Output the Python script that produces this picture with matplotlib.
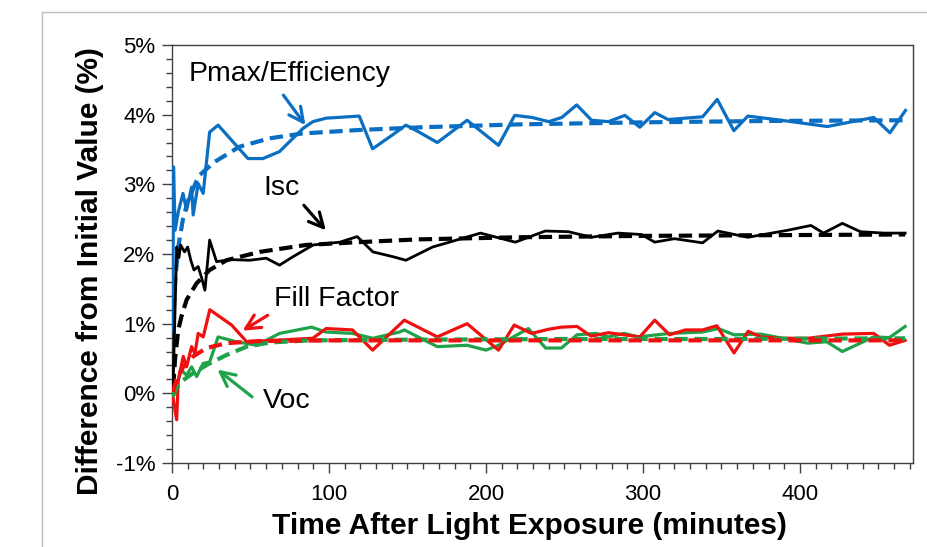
import matplotlib
matplotlib.use("Agg")
import matplotlib.pyplot as plt
from matplotlib.lines import Line2D
from matplotlib.ticker import MultipleLocator

plt.rcParams['font.family'] = ['Liberation Sans', 'DejaVu Sans']

# ---------------------------------------------------------------
# data (minutes, % change from initial value)
# ---------------------------------------------------------------

# Pmax / Efficiency
t_pmax = [0.5, 1, 2, 4, 7, 9.3, 12.5, 13.5, 16.7, 19.9, 24, 29.4, 48.4, 57.9, 68.5, 83.3,
          89.7, 98.2, 119.3, 127.8, 140.5, 149, 157.4, 169, 188, 208, 218.3, 229.3, 240,
          248.3, 257.8, 267.3, 278, 288.5, 298, 307.5, 316, 338, 347.3, 357.9, 366.8,
          388, 417.5, 447, 457.3, 467.2]
pmax = [0.9, 3.25, 2.34, 2.6, 2.87, 2.63, 2.96, 2.56, 3.01, 2.87, 3.75, 3.85, 3.37, 3.37, 3.47, 3.80,
        3.90, 3.95, 3.98, 3.51, 3.71, 3.85, 3.75, 3.60, 3.92, 3.56, 3.99, 3.96, 3.90,
        3.96, 4.14, 3.92, 3.90, 3.99, 3.82, 4.03, 3.93, 3.97, 4.22, 3.77, 3.98,
        3.92, 3.83, 3.96, 3.74, 4.06]
t_pmax_fit = [0.5, 2, 4, 7, 10, 17, 27, 43, 62, 83, 119, 160, 220, 300, 380, 467]
pmax_fit = [0.9, 1.6, 2.1, 2.5, 2.75, 3.12, 3.32, 3.54, 3.66, 3.73, 3.78, 3.82, 3.86, 3.89, 3.91, 3.92]

# Isc
t_isc = [0.5, 3, 4.5, 5.5, 8, 10, 12, 14, 16.7, 19, 21, 24, 28.4, 37, 49.5, 60, 68.5, 77, 90,
         107, 118, 128, 141, 149, 166, 196.5, 218.7, 237.8, 252.5, 267.3, 284, 299, 307.5,
         320, 338, 347.7, 366.8, 392, 407, 415, 427, 438.5, 453.5, 467]
isc = [-0.10, 2.1, 1.95, 2.13, 2.03, 2.10, 1.91, 1.77, 1.82, 1.65, 1.48, 2.20, 1.89, 1.92, 1.91, 1.94, 1.84, 1.96, 2.13,
       2.17, 2.25, 2.03, 1.96, 1.91, 2.10, 2.30, 2.17, 2.33, 2.32, 2.24, 2.30, 2.28, 2.17,
       2.22, 2.16, 2.33, 2.24, 2.34, 2.41, 2.30, 2.44, 2.32, 2.30, 2.30]
t_isc_fit = [0.8, 2, 4, 6, 9.3, 15.7, 24, 34.7, 55.8, 85.5, 119, 157, 220, 300, 380, 467]
isc_fit = [0.09, 0.5, 0.91, 1.1, 1.34, 1.58, 1.77, 1.91, 2.03, 2.13, 2.17, 2.21, 2.24, 2.26, 2.27, 2.28]

# Fill Factor
t_ff = [0, 3, 4, 7.2, 9.3, 12.5, 14.6, 16.7, 19.9, 24.1, 38, 47.6, 64.5, 89.7, 98.2, 115, 127.8,
        148, 169, 188, 208, 218, 229, 240, 248, 258, 267, 278, 288, 298, 307.5, 317, 327,
        338, 347, 358, 367, 375, 388, 405, 427, 447, 457, 467]
ff = [0.02, -0.38, 0.19, 0.53, 0.38, 0.67, 0.57, 0.86, 0.81, 1.20, 0.98, 0.74, 0.76, 0.79, 0.93, 0.91, 0.62,
      1.05, 0.81, 1.00, 0.62, 0.98, 0.86, 0.92, 0.95, 0.96, 0.82, 0.87, 0.84, 0.81, 1.05, 0.84, 0.91,
      0.91, 0.97, 0.58, 0.89, 0.81, 0.79, 0.79, 0.85, 0.86, 0.69, 0.76]
t_ff_fit = [0.5, 3, 7.2, 13.5, 22, 34.7, 55.8, 100, 200, 300, 467]
ff_fit = [0.02, 0.2, 0.38, 0.53, 0.65, 0.72, 0.75, 0.76, 0.76, 0.76, 0.76]

# Voc
t_voc = [0, 3, 6, 9.3, 12.5, 15.7, 19.9, 24, 29.4, 41, 54, 68.5, 89, 98, 115, 128, 145, 148,
         169, 188, 200, 208, 227, 238, 248, 258, 270, 278, 288, 297, 317, 338, 348, 358,
         375, 405, 417, 427, 447, 457, 467]
voc = [-0.05, 0.12, 0.33, 0.26, 0.38, 0.24, 0.43, 0.45, 0.81, 0.74, 0.69, 0.86, 0.95, 0.88, 0.86, 0.79, 0.88, 0.91,
       0.67, 0.69, 0.62, 0.69, 0.93, 0.65, 0.65, 0.84, 0.86, 0.81, 0.86, 0.81, 0.86, 0.88, 0.93, 0.84,
       0.85, 0.72, 0.74, 0.60, 0.81, 0.80, 0.96]
t_voc_fit = [0.5, 3, 7.2, 13.5, 24, 34.7, 47.6, 62.5, 88, 150, 250, 350, 467]
voc_fit = [-0.05, 0.08, 0.19, 0.29, 0.43, 0.55, 0.67, 0.73, 0.76, 0.77, 0.78, 0.78, 0.79]

y_ticks = [-1, 0, 1, 2, 3, 4, 5]
y_tick_labels = ['-1%', '0%', '1%', '2%', '3%', '4%', '5%']
x_ticks = [0, 100, 200, 300, 400]

# ---------------------------------------------------------------
# colours
# ---------------------------------------------------------------
blue = '#0a6fc2'
red = '#f01010'
green = '#1fa34a'
black = '#000000'

fig = plt.figure(figsize=(9.27, 5.47), dpi=100)
ax = fig.add_axes([0.1855, 0.1536, 0.7994, 0.7641])

dash = (0, (3.2, 1.6))
ax.plot(t_pmax, pmax, color=blue, lw=2.3, zorder=3)
ax.plot(t_pmax_fit, pmax_fit, color=blue, lw=3, ls=dash, zorder=3)
ax.plot(t_isc, isc, color=black, lw=2.0, zorder=3)
ax.plot(t_isc_fit, isc_fit, color=black, lw=3, ls=dash, zorder=3)
ax.plot(t_voc, voc, color=green, lw=2.3, zorder=3)
ax.plot(t_ff, ff, color=red, lw=2.3, zorder=3)
ax.plot(t_voc_fit, voc_fit, color=green, lw=3, ls=dash, zorder=3)
ax.plot(t_ff_fit, ff_fit, color=red, lw=3, ls=dash, zorder=3)

ax.set_xlim(0, 472)
ax.set_ylim(-1, 5)
ax.set_yticks(y_ticks)
ax.set_yticklabels(y_tick_labels)
ax.set_xticks(x_ticks)
ax.xaxis.set_minor_locator(MultipleLocator(10))
ax.yaxis.set_minor_locator(MultipleLocator(0.2))
ax.tick_params(axis='both', which='major', labelsize=16, length=7, width=1, color='#404040', direction='out')
ax.tick_params(axis='both', which='minor', length=4, width=1, color='#404040', direction='out')
ax.tick_params(axis='y', pad=5)
ax.tick_params(axis='x', pad=8)
for s in ax.spines.values():
    s.set_color('#404040')
    s.set_linewidth(1)

ax.set_xlabel('Time After Light Exposure (minutes)', fontsize=21.5, fontweight='bold')
ax.set_ylabel('Difference from Initial Value (%)', fontsize=21.5, fontweight='bold')
ax.xaxis.set_label_coords(0.483, -0.118)
ax.yaxis.set_label_coords(-0.092, 0.46)

# annotations with arrows
def label(text, xy_text, xy_arrow_from, xy_arrow_to, color):
    ax.annotate(text, xy=xy_text, xycoords='data', fontsize=20.5, ha='center', va='center', color='black')
    ax.annotate('', xy=xy_arrow_to, xytext=xy_arrow_from, xycoords='data',
                arrowprops=dict(arrowstyle='->', color=color, lw=2.3, mutation_scale=26,
                                shrinkA=0, shrinkB=0))

label('Pmax/Efficiency', (75, 4.58), (71, 4.28), (85, 3.85), blue)
label('Isc', (70, 2.95), (84, 2.7), (98, 2.34), black)
label('Fill Factor', (105, 1.36), (61, 1.12), (45, 0.90), red)
label('Voc', (73, -0.11), (51, -0.05), (29, 0.34), green)

# light grey chart border
fig.add_artist(Line2D([42 / 927, 42 / 927], [0, 1 - 12 / 547], color='#bfbfbf', lw=1))
fig.add_artist(Line2D([42 / 927, 1], [1 - 12 / 547, 1 - 12 / 547], color='#bfbfbf', lw=1))

fig.savefig('out.png', dpi=100)
